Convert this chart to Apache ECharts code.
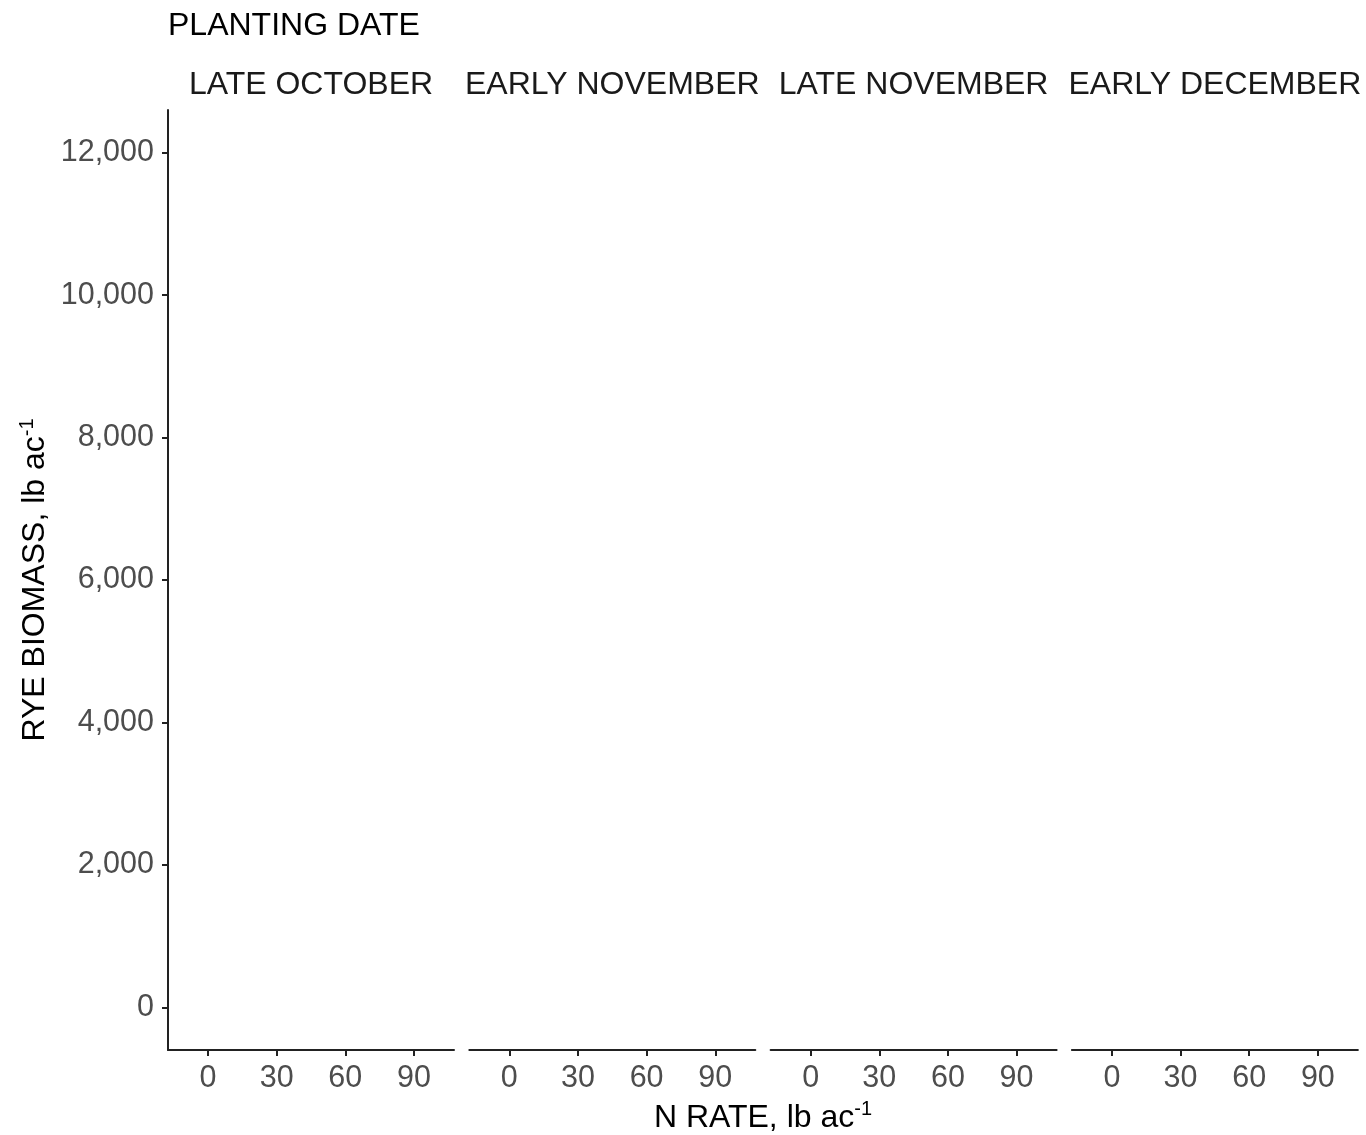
<!DOCTYPE html>
<html>
<head>
<meta charset="utf-8">
<script src="https://cdn.jsdelivr.net/npm/echarts@6/dist/echarts.min.js"></script>
<style>html,body{margin:0;padding:0;background:#fff}#c{width:1366px;height:1135px}</style>
</head>
<body>
<div id="c"></div>
<script>
const legendTitle = 'PLANTING DATE';
const panels = ['LATE OCTOBER', 'EARLY NOVEMBER', 'LATE NOVEMBER', 'EARLY DECEMBER'];
const nRateTicks = [0, 30, 60, 90];
const biomassTicks = [0, 2000, 4000, 6000, 8000, 10000, 12000];
// The reference panels show no plotted marks
const biomassByPanel = [[], [], [], []];

const FONT = '"Liberation Sans", Arial, sans-serif';
const TICK_FS = 30.5, TITLE_FS = 32;
const LEFT0 = 168, STEP = 301.3, PW = 286, TOP = 110, BOTTOM = 85;
const lineStyle = { color: '#222', width: 2 };

const grids = [], xAxes = [], yAxes = [], series = [], graphics = [];
panels.forEach((p, i) => {
  const left = LEFT0 + i * STEP;
  grids.push({ left: left, top: TOP, width: PW, bottom: BOTTOM, containLabel: false });
  xAxes.push({
    type: 'value', gridIndex: i, min: -17.5, max: 107.5,
    axisLine: { show: true, onZero: false, lineStyle: lineStyle },
    axisTick: { show: true, length: 6, lineStyle: lineStyle, customValues: nRateTicks },
    axisLabel: { customValues: nRateTicks, color: '#4d4d4d', fontSize: TICK_FS, fontFamily: FONT, margin: 13 },
    splitLine: { show: false }
  });
  yAxes.push({
    type: 'value', gridIndex: i, min: -600, max: 12600, show: i === 0,
    axisLine: { show: true, onZero: false, lineStyle: lineStyle },
    axisTick: { show: true, length: 6, lineStyle: lineStyle, customValues: biomassTicks },
    axisLabel: { customValues: biomassTicks, color: '#4d4d4d', fontSize: TICK_FS, fontFamily: FONT, margin: 14,
      formatter: v => v.toLocaleString('en-US') },
    splitLine: { show: false },
    name: i === 0 ? '{t|RYE BIOMASS, lb ac}{s|-1}' : '',
    nameLocation: 'middle', nameGap: 114,
    nameTextStyle: { rich: {
      t: { fontSize: TITLE_FS, fontFamily: FONT, color: '#000' },
      s: { fontSize: 20, fontFamily: FONT, color: '#000', padding: [0, 0, 17, 0] }
    } }
  });
  series.push({ type: 'scatter', xAxisIndex: i, yAxisIndex: i, data: biomassByPanel[i], symbolSize: 8 });
  graphics.push({ type: 'text', x: left + PW / 2, y: 85,
    style: { text: p, textAlign: 'center', textVerticalAlign: 'middle', fontSize: TITLE_FS, fontFamily: FONT, fill: '#1a1a1a' } });
});

graphics.push({ type: 'text', x: LEFT0, y: 26,
  style: { text: legendTitle, textAlign: 'left', textVerticalAlign: 'middle', fontSize: TITLE_FS, fontFamily: FONT, fill: '#000' } });
graphics.push({ type: 'text', x: (LEFT0 + LEFT0 + 3 * STEP + PW) / 2, y: 1118,
  style: { text: '{t|N RATE, lb ac}{s|-1}', textAlign: 'center', textVerticalAlign: 'middle',
    rich: {
      t: { fontSize: TITLE_FS, fontFamily: FONT, fill: '#000' },
      s: { fontSize: 20, fontFamily: FONT, fill: '#000', padding: [0, 0, 17, 0] }
    } } });

const chart = echarts.init(document.getElementById('c'), null, { renderer: 'canvas' });
chart.setOption({
  backgroundColor: '#fff',
  animation: false,
  grid: grids, xAxis: xAxes, yAxis: yAxes, series: series,
  graphic: graphics
});
</script>
</body>
</html>
